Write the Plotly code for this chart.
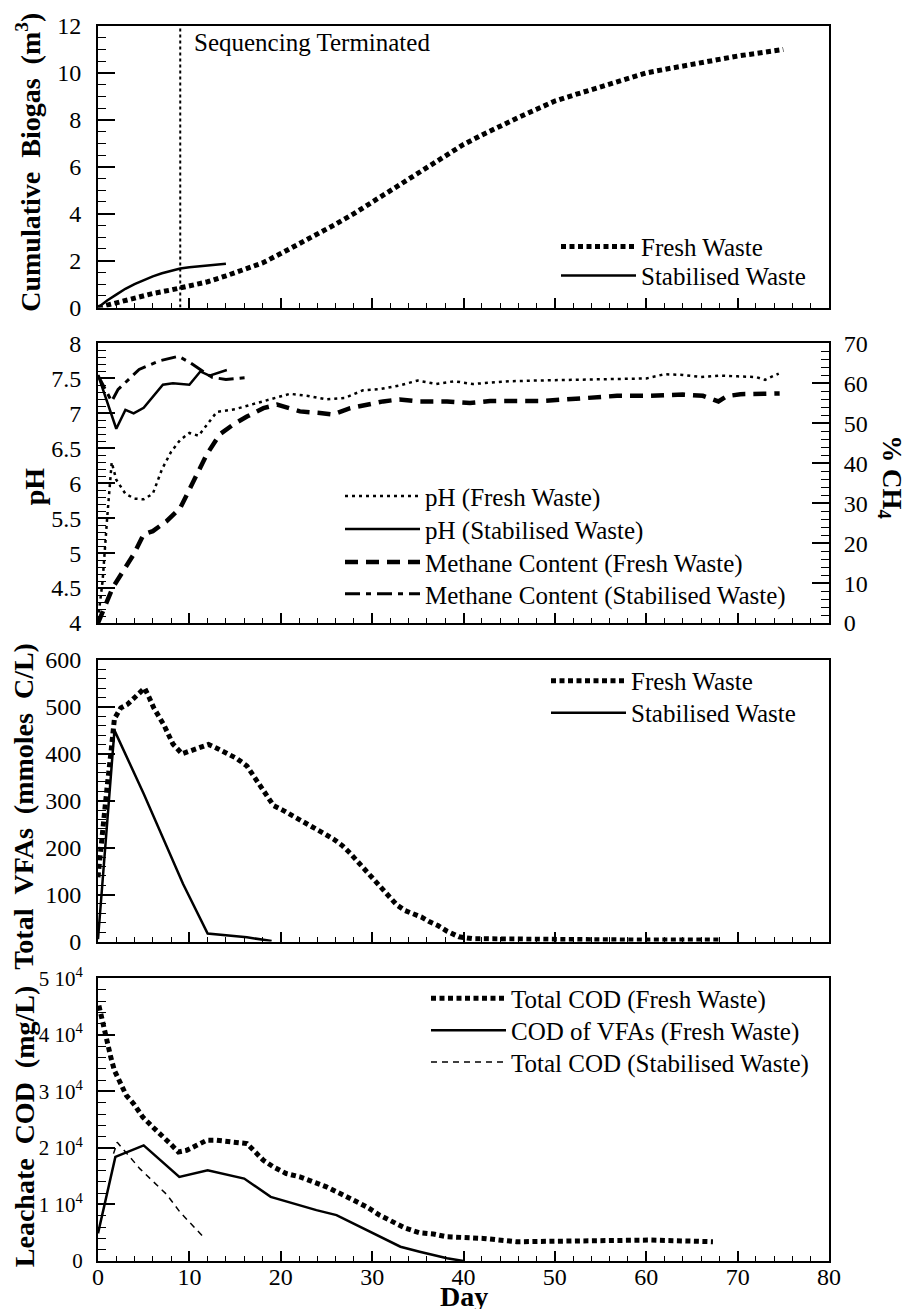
import plotly.graph_objects as go

# ---------------- data ----------------
SEQ_TERMINATED_DAY = 9
SEQ_LABEL = "Sequencing Terminated"

# Panel 1: cumulative biogas (m3)
biogas_fresh_day = [0, 2, 4, 6, 8, 10, 12, 14, 16, 18, 20, 22, 24, 26, 28, 30, 32, 34, 36, 38,
                    40, 42, 44, 46, 48, 50, 52, 54, 56, 58, 60, 62, 64, 66, 68, 70, 72, 74, 75]
biogas_fresh_m3 = [0, 0.2, 0.45, 0.6, 0.75, 0.9, 1.1, 1.35, 1.6, 1.9, 2.3, 2.7, 3.1, 3.55, 4.0, 4.5,
                   5.0, 5.5, 6.0, 6.5, 6.95, 7.35, 7.75, 8.1, 8.45, 8.8, 9.05, 9.3, 9.55, 9.8, 10.0,
                   10.15, 10.3, 10.45, 10.58, 10.72, 10.83, 10.95, 11.0]
biogas_stab_day = [0, 1, 2, 3, 4, 5, 6, 7, 8, 9, 10, 12, 14]
biogas_stab_m3 = [0, 0.3, 0.55, 0.8, 1.0, 1.18, 1.33, 1.46, 1.57, 1.66, 1.72, 1.8, 1.87]

# Panel 2: pH and methane content
ph_fresh_day = [0, 0.5, 1, 1.5, 2, 3, 4, 5, 6, 7, 8, 9, 10, 11, 12, 13, 15, 17, 19, 21, 23, 25,
                27, 29, 31, 33, 35, 37, 39, 41, 43, 45, 48, 51, 54, 57, 60, 62, 64, 66, 68, 70,
                72, 73, 74.5]
ph_fresh = [4.05, 4.6, 5.5, 6.3, 6.05, 5.85, 5.78, 5.77, 5.85, 6.2, 6.45, 6.62, 6.72, 6.68, 6.85,
            7.02, 7.06, 7.13, 7.2, 7.28, 7.25, 7.2, 7.22, 7.33, 7.35, 7.4, 7.47, 7.42, 7.46, 7.42,
            7.44, 7.46, 7.47, 7.48, 7.49, 7.5, 7.5, 7.56, 7.55, 7.52, 7.54, 7.53, 7.52, 7.48, 7.57]
ph_stab_day = [0, 2, 3, 3.9, 5, 6, 7.1, 8.2, 10, 11.2, 12.2, 14.1]
ph_stab = [7.55, 6.78, 7.05, 7.0, 7.08, 7.24, 7.41, 7.43, 7.41, 7.6, 7.54, 7.62]

ch4_fresh_day = [0, 1.6, 3.9, 5, 6, 7.5, 9, 10.4, 11.9, 13.3, 14.8, 16.3, 18.1, 19.6, 22.1, 24.3,
                 25.7, 27.6, 29.4, 31.2, 33, 35.2, 38.2, 40.7, 42.9, 45.1, 48.4, 51.3, 54.6, 56.8,
                 60.4, 64, 66.2, 67.9, 68.8, 70.3, 74.6]
ch4_fresh = [0, 8.8, 17.2, 22.2, 23, 25.5, 28.8, 35.5, 42.2, 47.2, 49.7, 51.7, 53.8, 54.7, 53,
             52.6, 52.2, 53.8, 54.7, 55.5, 56, 55.5, 55.5, 55.1, 55.6, 55.5, 55.6, 56, 56.5, 56.9,
             56.9, 57.2, 56.9, 55.5, 56.8, 57.3, 57.5]
ch4_stab_day = [0, 1.5, 2.2, 4.5, 6.8, 8.8, 10, 11.2, 12.5, 14, 16.5]
ch4_stab = [62, 55.5, 58.5, 63.5, 65.7, 66.8, 65.3, 63.5, 61.5, 61, 61.5]

# Panel 3: total VFAs (mmoles C/L)
vfa_fresh_day = [0, 0.3, 0.7, 1.0, 1.4, 1.8, 2.5, 3.2, 3.9, 4.5, 5.1, 5.6, 6.1, 7.2, 8.2, 9.2, 10.4,
                 12.1, 13, 14.1, 15.2, 16.3, 17.4, 18.5, 19.2, 20.3, 21.8, 22.9, 24, 25.1, 25.8,
                 26.7, 27.6, 28.3, 29.2, 30.1, 30.9, 31.8, 32.7, 33.6, 34.5, 35.4, 36.3, 37.2,
                 38.2, 39.5, 41, 45, 50, 55, 60, 65, 68]
vfa_fresh = [137, 200, 260, 330, 400, 475, 498, 505, 518, 530, 540, 520, 498, 462, 421, 400, 408,
             420, 412, 400, 390, 374, 342, 307, 290, 279, 263, 252, 240, 226, 218, 205, 188, 173,
             152, 134, 116, 95, 78, 66, 60, 52, 42, 34, 22, 10, 6, 5, 4, 4, 3, 3, 3]
vfa_stab_day = [0, 1.8, 5, 9.3, 12, 16.3, 19]
vfa_stab = [5, 450, 315, 123, 17, 9, 1]

# Panel 4: leachate COD (mg/L)
cod_fresh_day = [0.1, 0.5, 0.85, 1.4, 1.8, 2.5, 3.1, 3.9, 4.9, 6, 7.2, 7.9, 8.8, 9.7, 10.8, 11.9,
                 13, 14.8, 16.3, 17.2, 18.1, 19.2, 20.6, 22.1, 23.6, 25, 26.5, 27.9, 29.4, 30.8,
                 32.3, 33.7, 35.2, 36.7, 38.1, 42.2, 45.8, 53.1, 60.4, 67.3]
cod_fresh = [45200, 42240, 39600, 36060, 33700, 31060, 29300, 27830, 25470, 23700, 21940, 20770,
             19290, 19590, 20470, 21360, 21360, 21060, 20770, 19290, 17830, 16650, 15480, 14880,
             14000, 13120, 11950, 10770, 9590, 8120, 6940, 5770, 5000, 4770, 4300, 4000, 3410,
             3530, 3710, 3410]
cod_vfa_day = [0, 1.9, 5.0, 8.9, 12, 16, 18.9, 21.3, 23.9, 26.1, 28.3, 30.5, 33.1, 35.2, 38.2, 40]
cod_vfa = [4890, 18410, 20470, 14880, 16060, 14590, 11350, 10180, 9000, 8120, 6350, 4590, 2530,
           1650, 480, 0]
cod_stab_day = [1.7, 2.1, 4.6, 7.5, 9, 11.4]
cod_stab = [19000, 21000, 16300, 11800, 8600, 4500]

# tick labels
cod_tickvals = [0, 10000, 20000, 30000, 40000, 50000]
cod_ticktext = ["0", "1 10<sup>4</sup>", "2 10<sup>4</sup>", "3 10<sup>4</sup>",
                "4 10<sup>4</sup>", "5 10<sup>4</sup>"]

# ---------------- layout geometry ----------------
W, H = 907, 1309
ML, MR, MT, MB = 98, 78, 24, 48
PW, PH = W - ML - MR, H - MT - MB
FONT = "Liberation Serif, Times New Roman, serif"
SP = "\u00a0\u00a0"


def ydom(top, bot):
    return [1 - (bot - MT) / PH, 1 - (top - MT) / PH]


def px_x(px):
    return (px - ML) / PW


def px_y(py):
    return 1 - (py - MT) / PH


P1, P2, P3, P4 = (24, 306), (342, 622), (659, 941), (978, 1261)

FRESH_DOT = dict(color="black", width=5, dash="5px,3.5px")
SOLID = dict(color="black", width=2.5)

# legend placement (sample-line start x, row centre y) in pixels
LEG_POS = {
    "legend": (563, 247), "legend2": (563, 276),
    "legend3": (347, 497), "legend4": (347, 530), "legend5": (347, 563), "legend6": (347, 595),
    "legend7": (553, 682), "legend8": (553, 714),
    "legend9": (433, 1000), "legend10": (433, 1032), "legend11": (433, 1064),
}

fig = go.Figure()

# Panel 1
fig.add_trace(go.Scatter(x=biogas_fresh_day, y=biogas_fresh_m3, mode="lines", name="Fresh Waste",
                         line=FRESH_DOT, xaxis="x", yaxis="y", legend="legend"))
fig.add_trace(go.Scatter(x=biogas_stab_day, y=biogas_stab_m3, mode="lines", name="Stabilised Waste",
                         line=SOLID, xaxis="x", yaxis="y", legend="legend2"))
fig.add_trace(go.Scatter(x=[SEQ_TERMINATED_DAY, SEQ_TERMINATED_DAY], y=[0, 12], mode="lines",
                         line=dict(color="black", width=2, dash="3px,3px"), showlegend=False,
                         xaxis="x", yaxis="y"))

# Panel 2
fig.add_trace(go.Scatter(x=ph_fresh_day, y=ph_fresh, mode="lines", name="pH (Fresh Waste)",
                         line=dict(color="black", width=2.5, dash="3px,4px"),
                         xaxis="x2", yaxis="y2", legend="legend3"))
fig.add_trace(go.Scatter(x=ph_stab_day, y=ph_stab, mode="lines", name="pH (Stabilised Waste)",
                         line=SOLID, xaxis="x2", yaxis="y2", legend="legend4"))
fig.add_trace(go.Scatter(x=ch4_fresh_day, y=ch4_fresh, mode="lines",
                         name="Methane Content (Fresh Waste)",
                         line=dict(color="black", width=4.5, dash="13px,8px"),
                         xaxis="x2", yaxis="y3", legend="legend5"))
fig.add_trace(go.Scatter(x=ch4_stab_day, y=ch4_stab, mode="lines",
                         name="Methane Content (Stabilised Waste)",
                         line=dict(color="black", width=3, dash="15px,6px,5px,6px"),
                         xaxis="x2", yaxis="y3", legend="legend6"))

# Panel 3
fig.add_trace(go.Scatter(x=vfa_fresh_day, y=vfa_fresh, mode="lines", name="Fresh Waste",
                         line=FRESH_DOT, xaxis="x3", yaxis="y4", legend="legend7"))
fig.add_trace(go.Scatter(x=vfa_stab_day, y=vfa_stab, mode="lines", name="Stabilised Waste",
                         line=SOLID, xaxis="x3", yaxis="y4", legend="legend8"))

# Panel 4
fig.add_trace(go.Scatter(x=cod_fresh_day, y=cod_fresh, mode="lines", name="Total COD (Fresh Waste)",
                         line=FRESH_DOT, xaxis="x4", yaxis="y5", legend="legend9"))
fig.add_trace(go.Scatter(x=cod_vfa_day, y=cod_vfa, mode="lines", name="COD of VFAs (Fresh Waste)",
                         line=SOLID, xaxis="x4", yaxis="y5", legend="legend10"))
fig.add_trace(go.Scatter(x=cod_stab_day, y=cod_stab, mode="lines",
                         name="Total COD (Stabilised Waste)",
                         line=dict(color="black", width=1.5, dash="6px,5px"),
                         xaxis="x4", yaxis="y5", legend="legend11"))

tickfont = dict(family=FONT, size=24, color="black")


def xax(anchor, show_labels):
    return dict(domain=[0, 1], anchor=anchor, range=[0, 80], dtick=10, tick0=0,
                showticklabels=show_labels, ticks="inside", ticklen=10, tickwidth=1.5,
                tickcolor="black", showline=True, linecolor="black", linewidth=2, mirror=True,
                showgrid=False, zeroline=False, tickfont=tickfont, ticklabelstandoff=-7,
                minor=dict(dtick=2, ticks="inside", ticklen=5, tickwidth=1.2, tickcolor="black"))


def yax(anchor, dom, rng, dtick, minor_dtick, **kw):
    d = dict(domain=dom, anchor=anchor, range=rng, dtick=dtick, tick0=0,
             ticks="inside", ticklen=17, tickwidth=1.5, tickcolor="black",
             showline=True, linecolor="black", linewidth=2, mirror=True,
             showgrid=False, zeroline=False, tickfont=tickfont, ticklabelstandoff=10,
             minor=dict(dtick=minor_dtick, ticks="inside", ticklen=8, tickwidth=1.2,
                        tickcolor="black"))
    d.update(kw)
    return d


legend_common = dict(font=dict(family=FONT, size=25, color="black"), bgcolor="rgba(0,0,0,0)",
                     borderwidth=0, itemwidth=75, xanchor="left", yanchor="top")

legends = {name: dict(x=px_x(sx - 7), y=px_y(cy - 25), **legend_common)
           for name, (sx, cy) in LEG_POS.items()}

fig.update_layout(
    width=W, height=H, margin=dict(l=ML, r=MR, t=MT, b=MB),
    paper_bgcolor="white", plot_bgcolor="white",
    font=dict(family=FONT, size=24, color="black"),
    xaxis=xax("y", False),
    yaxis=yax("x", ydom(*P1), [0, 12], 2, 0.5),
    xaxis2=xax("y2", False),
    yaxis2=yax("x2", ydom(*P2), [4, 8], 0.5, 0.1),
    yaxis3=dict(domain=ydom(*P2), anchor="x2", overlaying="y2", side="right", range=[0, 70],
                dtick=10, tick0=0, ticks="inside", ticklen=17, tickwidth=1.5, tickcolor="black",
                showline=True, linecolor="black", linewidth=2, showgrid=False, zeroline=False,
                tickfont=tickfont, ticklabelstandoff=8,
                minor=dict(dtick=2, ticks="inside", ticklen=8, tickwidth=1.2, tickcolor="black")),
    xaxis3=xax("y4", False),
    yaxis4=yax("x3", ydom(*P3), [0, 600], 100, 20),
    xaxis4=xax("y5", True),
    yaxis5=yax("x4", ydom(*P4), [0, 50000], None, 2000, tickmode="array",
               tickvals=cod_tickvals, ticktext=cod_ticktext, ticklabelstandoff=9,
               tickfont=dict(family=FONT, size=21, color="black")),
    showlegend=True,
    **legends,
)

title_font = dict(family=FONT, size=28, color="black")
annotations = [
    dict(text=SEQ_LABEL, x=10.3, y=11.3, xref="x", yref="y", xanchor="left", yanchor="middle",
         showarrow=False, font=dict(family=FONT, size=25, color="black")),
    dict(text=f"<b>Cumulative{SP}Biogas{SP}(m<sup>3</sup>)</b>", x=0, y=px_y(161),
         xref="paper", yref="paper", xshift=-69, textangle=-90, showarrow=False,
         xanchor="center", yanchor="middle", font=title_font),
    dict(text="<b>pH</b>", x=0, y=px_y(485), xref="paper", yref="paper", xshift=-64,
         textangle=-90, showarrow=False, xanchor="center", yanchor="middle", font=title_font),
    dict(text="<b>% CH<sub>4</sub></b>", x=1, y=px_y(476), xref="paper", yref="paper", xshift=61,
         textangle=90, showarrow=False, xanchor="center", yanchor="middle",
         font=dict(family=FONT, size=27, color="black")),
    dict(text=f"<b>Total{SP}VFAs{SP}(mmoles{SP}C/L)</b>", x=0, y=px_y(806), xref="paper",
         yref="paper", xshift=-74, textangle=-90, showarrow=False, xanchor="center",
         yanchor="middle", font=title_font),
    dict(text=f"<b>Leachate{SP}COD{SP}(mg/L)</b>", x=0, y=px_y(1126), xref="paper",
         yref="paper", xshift=-74, textangle=-90, showarrow=False, xanchor="center",
         yanchor="middle", font=title_font),
    dict(text="<b>Day</b>", x=0.5, y=0, xref="paper", yref="paper", yshift=-35,
         showarrow=False, xanchor="center", yanchor="middle", font=title_font),
]
fig.update_layout(annotations=annotations)

fig.write_html("out.html")
